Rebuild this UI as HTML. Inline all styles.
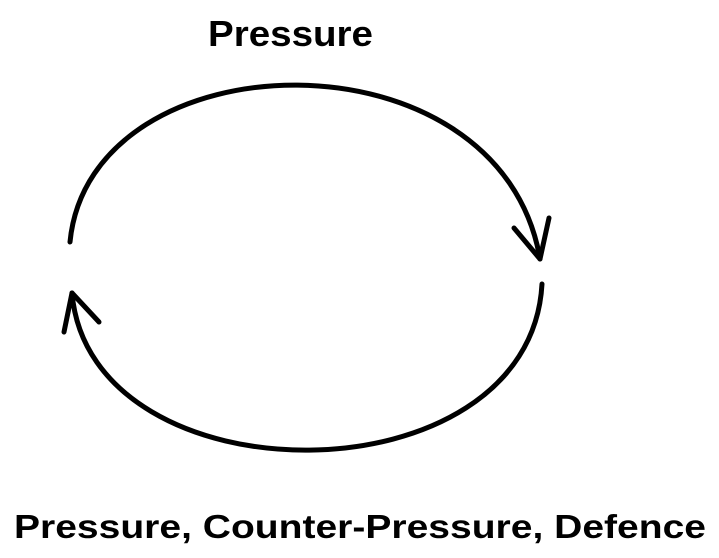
<!DOCTYPE html>
<html><head><style>
body{margin:0;width:719px;height:553px;background:#fff;overflow:hidden}
</style></head><body>
<svg width="719" height="553" viewBox="0 0 719 553">
<g fill="none" stroke="#000" stroke-width="5" stroke-linecap="round" stroke-linejoin="round">
<path d="M70,242 C90,35 500,25 540,259"/>
<path d="M514,228 L540,259 L549,218"/>
<path d="M542,284 C530,504 90,504 72,293"/>
<path d="M64,332 L72,293 L99,322"/>
</g>
<text x="290.5" y="46" text-anchor="middle" font-family="Liberation Sans, sans-serif" font-weight="bold" font-size="36" textLength="165" lengthAdjust="spacingAndGlyphs">Pressure</text>
<text x="360" y="538" text-anchor="middle" font-family="Liberation Sans, sans-serif" font-weight="bold" font-size="33" textLength="692" lengthAdjust="spacingAndGlyphs">Pressure, Counter-Pressure, Defence</text>
</svg>
</body></html>
